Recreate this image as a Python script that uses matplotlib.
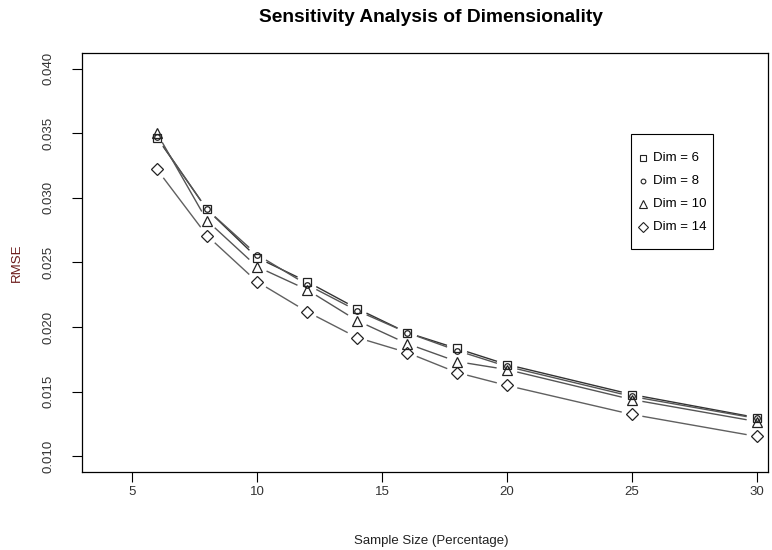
import numpy as np
import matplotlib.pyplot as plt
from matplotlib.patches import Rectangle

plt.rcParams["font.family"] = ["Liberation Sans", "DejaVu Sans"]

# RMSE by sample size for each dimensionality setting
sample_size = [6, 8, 10, 12, 14, 16, 18, 20, 25, 30]
rmse_dim6 = [0.03465, 0.0291, 0.02538, 0.02352, 0.02144, 0.01958, 0.01835, 0.01711, 0.01479, 0.0130]
rmse_dim8 = [0.0347, 0.0291, 0.02561, 0.02329, 0.02128, 0.01958, 0.01819, 0.01696, 0.01464, 0.01294]
rmse_dim10 = [0.0350, 0.02824, 0.02468, 0.0229, 0.02051, 0.01873, 0.01734, 0.01672, 0.0144, 0.0127]
rmse_dim14 = [0.0322, 0.02708, 0.02352, 0.0212, 0.0192, 0.01804, 0.01649, 0.01549, 0.01325, 0.01155]

labels = ["Dim = 6", "Dim = 8", "Dim = 10", "Dim = 14"]
series = [rmse_dim6, rmse_dim8, rmse_dim10, rmse_dim14]
markers = ["s", "o", "^", "D"]
msizes = [5.5, 4, 7, 6]
line_cols = ["#333333", "#555555", "#555555", "#606060"]

W, H = 772, 550
X0, X1, Y0, Y1 = 82, 768, 53, 472  # plot box in pixels
XLIM = (3.0, 30.44)
YLIM = (0.0088, 0.0412)

fig = plt.figure(figsize=(W / 100, H / 100), dpi=100)
ax = fig.add_axes([X0 / W, 1 - Y1 / H, (X1 - X0) / W, (Y1 - Y0) / H])
ax.set_xlim(*XLIM)
ax.set_ylim(*YLIM)
ax.set_autoscale_on(False)

# pixels per data unit, used to leave gaps around points
sx = (X1 - X0) / (XLIM[1] - XLIM[0])
sy = (Y1 - Y0) / (YLIM[1] - YLIM[0])


def broken_line(ax, xs, ys, color, gap=10.5):
    # type="b" style: segments stop short of each point
    px = np.asarray(xs, float) * sx
    py = np.asarray(ys, float) * sy
    for i in range(len(px) - 1):
        dx, dy = px[i + 1] - px[i], py[i + 1] - py[i]
        n = np.hypot(dx, dy)
        if n <= 2 * gap:
            continue
        ux, uy = dx / n, dy / n
        ax.plot([(px[i] + ux * gap) / sx, (px[i + 1] - ux * gap) / sx],
                [(py[i] + uy * gap) / sy, (py[i + 1] - uy * gap) / sy],
                color=color, lw=1.0, solid_capstyle="butt")


for ys, m, ms, c in zip(series, markers, msizes, line_cols):
    broken_line(ax, sample_size, ys, c)
    ax.plot(sample_size, ys, linestyle="none", marker=m, ms=ms,
            markerfacecolor="none", markeredgecolor="#222222", mew=0.9)

ax.set_xticks([5, 10, 15, 20, 25, 30])
ax.set_yticks([0.010, 0.015, 0.020, 0.025, 0.030, 0.035, 0.040])
ax.set_yticklabels(["0.010", "0.015", "0.020", "0.025", "0.030", "0.035", "0.040"],
                   rotation=90, va="center")
ax.tick_params(direction="out", length=7, width=0.8, labelsize=9.5,
               labelcolor="#333333")
ax.tick_params(axis="y", pad=13)
ax.tick_params(axis="x", pad=3)
for s in ax.spines.values():
    s.set_linewidth(0.9)

fig.text(431 / W, 1 - 541 / H, "Sample Size (Percentage)", fontsize=9.5,
         color="#222222", ha="center", va="center")
fig.text(17 / W, 1 - 263 / H, "RMSE", fontsize=9.5, color="#6b1a1a",
         rotation=90, ha="center", va="center")
fig.text(431 / W, 1 - 17 / H, "Sensitivity Analysis of Dimensionality",
         ha="center", va="center", fontsize=13.8, fontweight="bold")

# legend box drawn in figure pixels
fig.patches.append(Rectangle((631 / W, 1 - 249 / H), (713 - 631) / W, (249 - 134) / H,
                             transform=fig.transFigure, fill=False,
                             edgecolor="black", linewidth=0.8))
for i, (lab, m, ms) in enumerate(zip(labels, markers, msizes)):
    yy = 1 - (158 + 23 * i) / H
    fig.lines.append(plt.Line2D([643 / W], [yy], transform=fig.transFigure,
                                linestyle="none", marker=m, ms=ms * 0.85,
                                markerfacecolor="none", markeredgecolor="#222222",
                                mew=0.8))
    fig.text(653 / W, yy, lab, fontsize=9.5, ha="left", va="center")

fig.savefig("out.png", dpi=100)
